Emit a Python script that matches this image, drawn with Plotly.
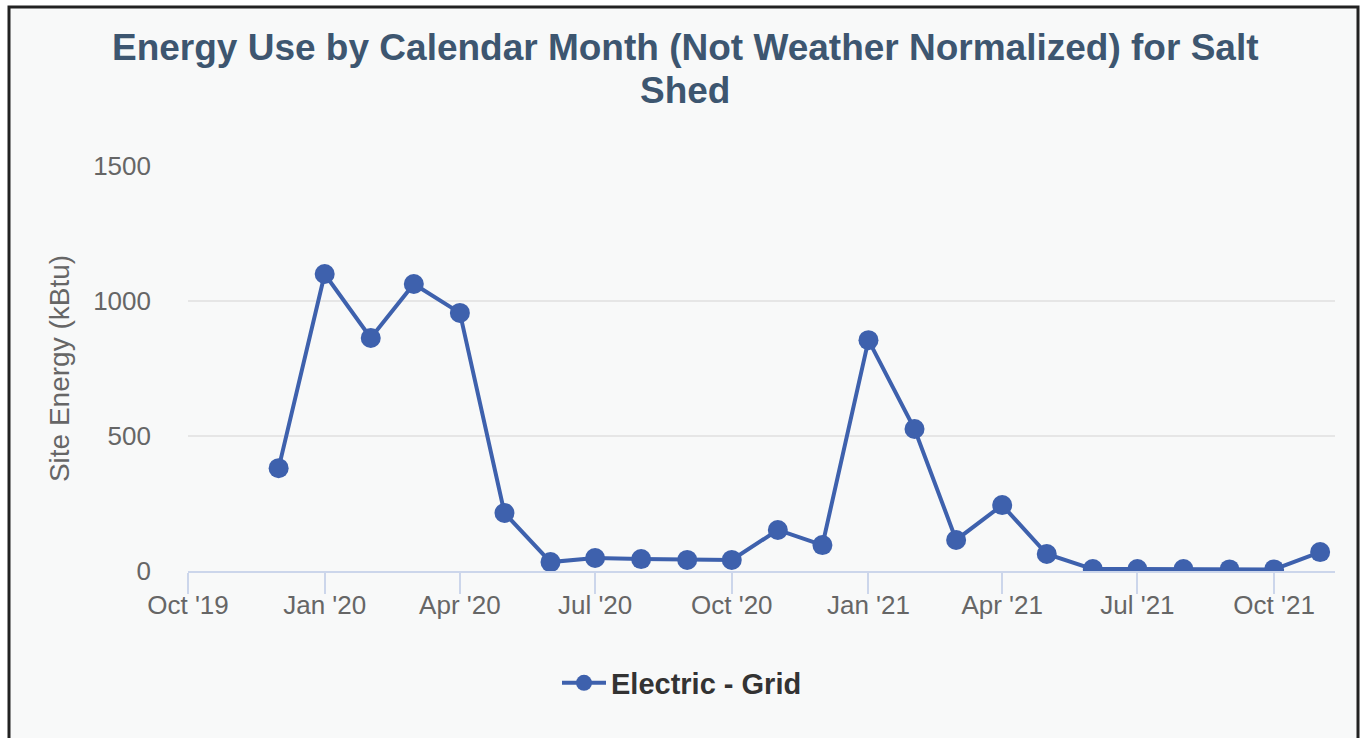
import plotly.graph_objects as go

months = ["2019-12-01", "2020-01-01", "2020-02-01", "2020-03-01", "2020-04-01",
          "2020-05-01", "2020-06-01", "2020-07-01", "2020-08-01", "2020-09-01",
          "2020-10-01", "2020-11-01", "2020-12-01", "2021-01-01", "2021-02-01",
          "2021-03-01", "2021-04-01", "2021-05-01", "2021-06-01", "2021-07-01",
          "2021-08-01", "2021-09-01", "2021-10-01", "2021-11-01"]
electric_grid = [381, 1100, 863, 1063, 956, 215, 33, 48, 44, 41, 41, 152, 96,
                 855, 526, 115, 244, 63, 7, 7, 7, 6, 6, 70]
tick_vals = ["2019-10-01", "2020-01-01", "2020-04-01", "2020-07-01", "2020-10-01",
             "2021-01-01", "2021-04-01", "2021-07-01", "2021-10-01"]
tick_text = ["Oct '19", "Jan '20", "Apr '20", "Jul '20", "Oct '20",
             "Jan '21", "Apr '21", "Jul '21", "Oct '21"]
y_ticks = [0, 500, 1000, 1500]

title_line1 = "Energy Use by Calendar Month (Not Weather Normalized) for Salt"
title_line2 = "Shed"

W, H = 1360, 738
L, R, T, B = 188, 25, 166, 167
PW, PH = W - L - R, H - T - B

def px(x):
    return (x - L) / PW

def py(y):
    return (H - B - y) / PH

COLOR = "#3e61ad"
BG = "#f8f9f9"
FONT = "Liberation Sans, Arial, sans-serif"

fig = go.Figure()
fig.add_trace(go.Scatter(
    x=months, y=electric_grid, mode="lines+markers", name="Electric - Grid",
    line=dict(color=COLOR, width=4),
    marker=dict(color=COLOR, size=20, line=dict(width=0)),
))

fig.add_shape(type="rect", xref="paper", yref="paper",
              x0=px(9), x1=px(1358), y0=py(770), y1=py(7),
              fillcolor=BG, line=dict(color="#222222", width=3), layer="below")

fig.add_annotation(text=title_line1, xref="paper", yref="paper",
                   x=px(685), y=py(47), xanchor="center", yanchor="middle",
                   showarrow=False,
                   font=dict(family=FONT, size=37, color="#3d5670", weight="bold"))
fig.add_annotation(text=title_line2, xref="paper", yref="paper",
                   x=px(685), y=py(90), xanchor="center", yanchor="middle",
                   showarrow=False,
                   font=dict(family=FONT, size=37, color="#3d5670", weight="bold"))

fig.update_layout(
    width=W, height=H,
    margin=dict(l=L, r=R, t=T, b=B, pad=0),
    paper_bgcolor="white", plot_bgcolor=BG,
    font=dict(family=FONT, color="#666666"),
    showlegend=True,
    legend=dict(orientation="h", x=px(682), y=py(683), xanchor="center",
                yanchor="middle", bgcolor="rgba(0,0,0,0)", itemwidth=44,
                font=dict(family=FONT, size=29, color="#333333", weight="bold")),
    xaxis=dict(
        type="date", range=["2019-10-01", "2021-11-11"],
        tickvals=tick_vals, ticktext=tick_text,
        showgrid=False, zeroline=False,
        showline=True, linecolor="#ccd6eb", linewidth=2,
        ticks="outside", ticklen=21, tickwidth=2, tickcolor="#ccd6eb",
        ticklabelstandoff=-11,
        tickfont=dict(family=FONT, size=26, color="#666666"),
    ),
    yaxis=dict(
        range=[0, 1500], tickvals=y_ticks,
        showgrid=True, gridcolor="#e6e6e6", gridwidth=2,
        zeroline=False, showline=False, ticks="",
        tickfont=dict(family=FONT, size=26, color="#666666"),
        ticklabelstandoff=36,
        title=dict(text="Site Energy (kBtu)", standoff=15,
                   font=dict(family=FONT, size=28, color="#666666")),
    ),
)

fig.write_html("out.html", config={"displayModeBar": False},
               post_script="document.body.style.margin='0px';")
